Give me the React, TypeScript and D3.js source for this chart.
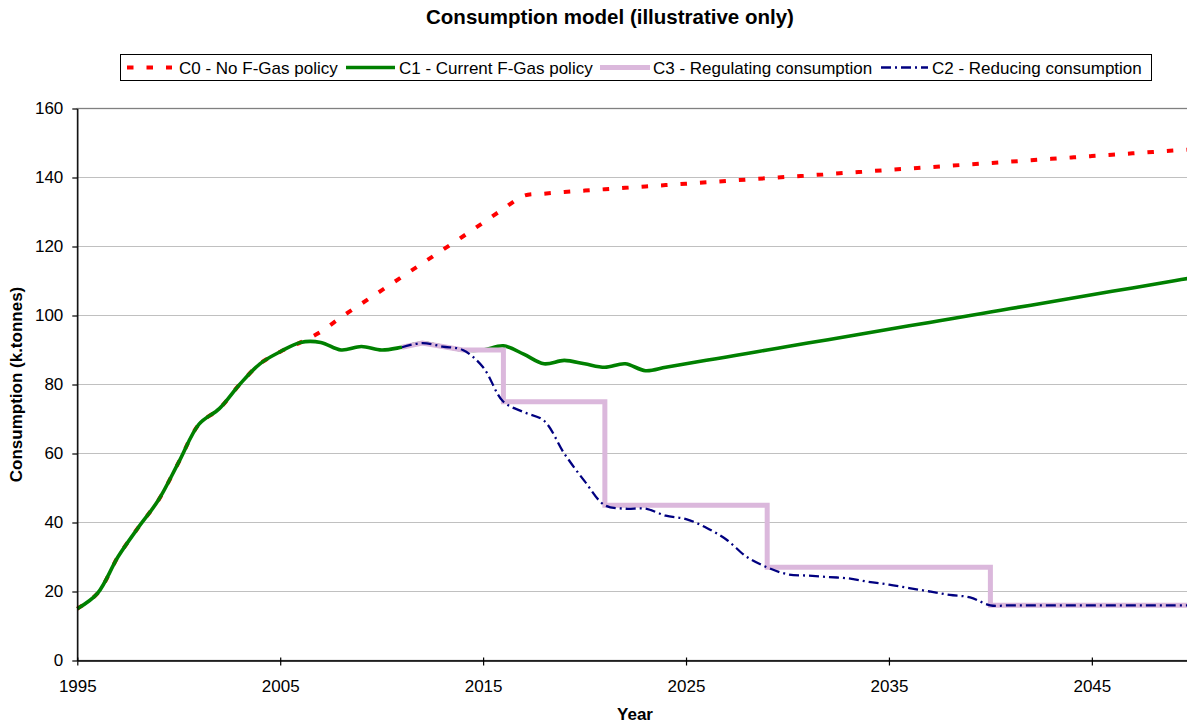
import React from 'react';
import * as d3 from 'd3';

const years = [
  1995, 1996, 1997, 1998, 1999, 2000, 2001, 2002, 2003, 2004, 2005, 2006, 2007, 2008,
  2009, 2010, 2011, 2012, 2013, 2014, 2015, 2016, 2017, 2018, 2019, 2020, 2021, 2022,
  2023, 2024, 2025, 2026, 2027, 2028, 2029, 2030, 2031, 2032, 2033, 2034, 2035, 2036,
  2037, 2038, 2039, 2040, 2041, 2042, 2043, 2044, 2045, 2046, 2047, 2048, 2049, 2050,
];

// C0 - No F-Gas policy
const c0NoPolicy = [
  15, 19.5, 30, 38.5, 46.5, 57.5, 68.5, 73, 80, 86, 89.5, 92.2,
  95.3, 99.5, 103.4, 107.3, 111.2, 115.1, 119, 122.9, 126.9, 130.9, 134.7,
  135.3, 135.8, 136.2, 136.6, 137, 137.4, 137.8, 138.2, 138.6, 139, 139.4, 139.8,
  140.2, 140.6, 141, 141.4, 141.8, 142.2, 142.6, 143, 143.4, 143.8, 144.2, 144.6,
  145, 145.4, 145.8, 146.2, 146.6, 147, 147.4, 147.8, 148.2,
];

// C1 - Current F-Gas policy
const c1Current = [
  15, 19.5, 30, 38.5, 46.5, 57.5, 68.5, 73, 80, 86, 89.5, 92.2,
  92.2, 90, 91, 90, 90.8, 92, 91, 90, 90, 91.2, 88.8, 86, 87, 86, 85, 86, 84,
  85, 86, 87, 88, 89, 90, 91, 92, 93, 94, 95, 96, 97, 98, 99, 100, 101, 102,
  103, 104, 105, 106, 107, 108, 109, 110, 111,
];

// C2 - Reducing consumption
const c2Years = [
  2011, 2012, 2013, 2014, 2015, 2016, 2017, 2018, 2019, 2020, 2021, 2022, 2023, 2024,
  2025, 2026, 2027, 2028, 2029, 2030, 2031, 2032, 2033, 2034, 2035, 2036, 2037, 2038,
  2039, 2040, 2041, 2042, 2043, 2044, 2045, 2046, 2047, 2048, 2049, 2050,
];
const c2Reducing = [
  90.8, 92, 91, 90, 85, 75, 72, 69.5, 60, 52,
  45, 44, 44, 42, 41, 38.5, 35, 30, 27, 25,
  24.6, 24.2, 23.8, 22.8, 22, 21, 20, 19, 18.3, 16,
  16, 16, 16, 16, 16, 16, 16, 16, 16, 16,
];

// C3 - Regulating consumption (stepped caps)
const c3Years = [2011, 2012, 2013, 2014, 2015, 2016, 2016, 2021, 2021, 2029, 2029, 2040, 2040, 2050];
const c3Regulating = [90.8, 92, 91, 90, 90, 90, 75, 75, 45, 45, 27, 27, 16, 16];

const xTicks = [1995, 2005, 2015, 2025, 2035, 2045];
const yTicks = [0, 20, 40, 60, 80, 100, 120, 140, 160];

const legendLabels = [
  'C0 - No F-Gas policy',
  'C1 - Current F-Gas policy',
  'C3 - Regulating consumption',
  'C2 - Reducing consumption',
];

const FONT = "Arial, 'Liberation Sans', sans-serif";

const ConsumptionChart = ({ width, height }: { width: number; height: number }) => {
  const ref = React.useRef<SVGSVGElement>(null);

  React.useEffect(() => {
    const svg = d3.select(ref.current);
    svg.selectAll('*').remove();

    const x = d3.scaleLinear().domain([1995, 2050]).range([77.3, 1193.3]);
    const y = d3.scaleLinear().domain([0, 160]).range([660.5, 108.5]);

    // gridlines
    svg.append('g')
      .selectAll('line')
      .data(yTicks.filter(t => t > 0 && t < 160))
      .enter()
      .append('line')
      .attr('x1', x(1995))
      .attr('x2', x(2050))
      .attr('y1', d => y(d))
      .attr('y2', d => y(d))
      .attr('stroke', '#c0c0c0')
      .attr('stroke-width', 1.2);

    // plot area border (only top really shows)
    svg.append('rect')
      .attr('x', x(1995))
      .attr('y', y(160))
      .attr('width', x(2050) - x(1995))
      .attr('height', y(0) - y(160))
      .attr('fill', 'none')
      .attr('stroke', '#808080')
      .attr('stroke-width', 1.3);

    const smooth = d3.line<[number, number]>()
      .x(d => x(d[0]))
      .y(d => y(d[1]))
      .curve(d3.curveCatmullRom.alpha(0.5));
    const straight = d3.line<[number, number]>()
      .x(d => x(d[0]))
      .y(d => y(d[1]));

    const zip = (xs: number[], vs: number[]) => xs.map((v, i) => [v, vs[i]] as [number, number]);

    svg.append('path')
      .attr('d', smooth(zip(years, c0NoPolicy)))
      .attr('fill', 'none')
      .attr('stroke', '#ff0000')
      .attr('stroke-width', 4)
      .attr('stroke-dasharray', '6.5,13');

    svg.append('path')
      .attr('d', smooth(zip(years, c1Current)))
      .attr('fill', 'none')
      .attr('stroke', '#008000')
      .attr('stroke-width', 3.6);

    svg.append('path')
      .attr('d', straight(zip(c3Years, c3Regulating)))
      .attr('fill', 'none')
      .attr('stroke', '#dbb8dc')
      .attr('stroke-width', 5);

    svg.append('path')
      .attr('d', smooth(zip(c2Years, c2Reducing)))
      .attr('fill', 'none')
      .attr('stroke', '#000080')
      .attr('stroke-width', 2.3)
      .attr('stroke-dasharray', '10,4,2,4');

    // axes
    const yAxis = svg.append('g')
      .attr('transform', `translate(${x(1995)},0)`)
      .call(d3.axisLeft(y).tickValues(yTicks).tickSize(5).tickSizeOuter(0).tickPadding(9));
    yAxis.select('.domain').attr('stroke', '#000').attr('stroke-width', 1.3);
    yAxis.selectAll('.tick line').attr('stroke', '#000').attr('stroke-width', 1.2);
    yAxis.selectAll('text')
      .attr('font-family', FONT)
      .attr('font-size', 17)
      .attr('fill', '#000');

    const xAxis = svg.append('g')
      .attr('transform', `translate(0,${y(0)})`)
      .call(d3.axisBottom(x).tickValues(xTicks).tickFormat(d3.format('d')).tickSize(5).tickSizeOuter(0));
    xAxis.select('.domain').attr('stroke', '#000').attr('stroke-width', 1.6);
    xAxis.selectAll('.tick line').attr('y1', -3).attr('stroke', '#000').attr('stroke-width', 1.2);
    xAxis.selectAll('text')
      .attr('y', 31.5)
      .attr('dy', 0)
      .attr('font-family', FONT)
      .attr('font-size', 17)
      .attr('fill', '#000');

    // titles
    svg.append('text')
      .attr('x', 610)
      .attr('y', 24)
      .attr('text-anchor', 'middle')
      .attr('font-family', FONT)
      .attr('font-weight', 'bold')
      .attr('font-size', 20.5)
      .text('Consumption model (illustrative only)');

    svg.append('text')
      .attr('x', 635)
      .attr('y', 720)
      .attr('text-anchor', 'middle')
      .attr('font-family', FONT)
      .attr('font-weight', 'bold')
      .attr('font-size', 17)
      .text('Year');

    svg.append('text')
      .attr('transform', `translate(22,${(y(0) + y(160)) / 2}) rotate(-90)`)
      .attr('text-anchor', 'middle')
      .attr('font-family', FONT)
      .attr('font-weight', 'bold')
      .attr('font-size', 17)
      .text('Consumption (k.tonnes)');

    // legend
    const legend = svg.append('g');
    legend.append('rect')
      .attr('x', 120.5)
      .attr('y', 54.5)
      .attr('width', 1031)
      .attr('height', 26)
      .attr('fill', '#fff')
      .attr('stroke', '#000')
      .attr('stroke-width', 1);

    const items = [
      { x1: 127, x2: 172, tx: 179, color: '#ff0000', w: 4, dash: '6.5,13' },
      { x1: 346, x2: 395, tx: 399, color: '#008000', w: 3.6, dash: null },
      { x1: 600, x2: 650, tx: 653, color: '#dbb8dc', w: 5, dash: null },
      { x1: 881, x2: 928, tx: 932, color: '#000080', w: 2.3, dash: '10,4,2,4' },
    ];
    items.forEach((it, i) => {
      legend.append('line')
        .attr('x1', it.x1)
        .attr('x2', it.x2)
        .attr('y1', 67.5)
        .attr('y2', 67.5)
        .attr('stroke', it.color)
        .attr('stroke-width', it.w)
        .attr('stroke-dasharray', it.dash);
      legend.append('text')
        .attr('x', it.tx)
        .attr('y', 73.5)
        .attr('font-family', FONT)
        .attr('font-size', 17)
        .text(legendLabels[i]);
    });
  }, [width, height]);

  return (
    <svg
      ref={ref}
      width={width}
      height={height}
      style={{ position: 'absolute', left: 0, top: 0, background: '#fff', display: 'block' }}
    />
  );
};

export default function App() {
  return <ConsumptionChart width={1187} height={725} />;
}
